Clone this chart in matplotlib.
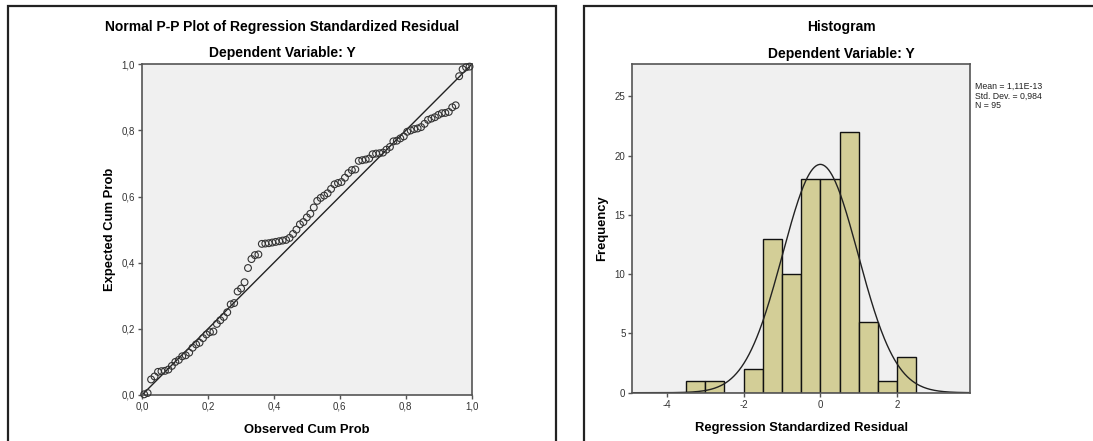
import numpy as np
import matplotlib
matplotlib.use("Agg")
import matplotlib.pyplot as plt
from matplotlib.patches import Rectangle
from matplotlib.ticker import FuncFormatter

plt.rcParams['font.family'] = ['Liberation Sans', 'DejaVu Sans']
plt.rcParams['axes.unicode_minus'] = False

# Expected cum prob of the sorted residuals
expected_cum_prob = [
    0.002, 0.006, 0.047, 0.056, 0.070, 0.072, 0.073, 0.077, 0.088, 0.100,
    0.106, 0.117, 0.120, 0.128, 0.143, 0.153, 0.158, 0.172, 0.183, 0.190,
    0.192, 0.215, 0.226, 0.236, 0.250, 0.274, 0.278, 0.313, 0.322, 0.341,
    0.384, 0.411, 0.423, 0.425, 0.457, 0.458, 0.459, 0.461, 0.463, 0.465,
    0.467, 0.469, 0.475, 0.487, 0.500, 0.516, 0.523, 0.537, 0.548, 0.567,
    0.587, 0.596, 0.603, 0.610, 0.623, 0.637, 0.641, 0.644, 0.657, 0.671,
    0.680, 0.682, 0.708, 0.710, 0.712, 0.715, 0.728, 0.730, 0.731, 0.733,
    0.742, 0.750, 0.767, 0.769, 0.776, 0.782, 0.796, 0.800, 0.804, 0.806,
    0.810, 0.820, 0.832, 0.836, 0.840, 0.847, 0.852, 0.853, 0.856, 0.870,
    0.876, 0.964, 0.985, 0.991, 0.993,
]

# histogram of regression standardized residual
bin_edges = [-3.5, -3.0, -2.5, -2.0, -1.5, -1.0, -0.5, 0.0, 0.5, 1.0, 1.5, 2.0, 2.5]
bin_counts = [1, 1, 0, 2, 13, 10, 18, 18, 22, 6, 1, 3]
mean_resid = 1.11e-13
sd_resid = 0.984
n_obs = 95

# observed cum prob from the ranks (Blom)
ranks = np.arange(1, n_obs + 1)
observed_cum_prob = (ranks - 0.375) / (n_obs + 0.25)

comma = FuncFormatter(lambda v, p: ('%.1f' % v).replace('.', ','))

fig = plt.figure(figsize=(10.93, 4.41), dpi=100)

# panel frames
for x0, w in [(8, 548), (584, 520)]:
    fig.patches.append(Rectangle((x0 / 1093, -0.1), w / 1093, 1.1 - 6 / 441,
                                 transform=fig.transFigure, fill=False,
                                 edgecolor='#222222', linewidth=1.6))

def style_axes(ax):
    ax.set_facecolor('#f0f0f0')
    for s in ax.spines.values():
        s.set_color('#555555')
        s.set_linewidth(1.2)
    ax.tick_params(direction='out', length=3, width=1, colors='#555555',
                   labelsize=7, labelcolor='#333333', pad=2)

# ---- P-P plot
ax1 = fig.add_axes([142 / 1093, 46 / 441, 329.7 / 1093, 330.7 / 441])
style_axes(ax1)
ax1.plot([0, 1], [0, 1], color='#222222', linewidth=1)
ax1.scatter(observed_cum_prob, expected_cum_prob, s=24, facecolors='none',
            edgecolors='#333333', linewidths=0.8, zorder=3, clip_on=False)
ax1.set_xlim(0, 1)
ax1.set_ylim(0, 1)
ax1.set_xticks([0, 0.2, 0.4, 0.6, 0.8, 1.0])
ax1.set_yticks([0, 0.2, 0.4, 0.6, 0.8, 1.0])
ax1.xaxis.set_major_formatter(comma)
ax1.yaxis.set_major_formatter(comma)
ax1.set_xlabel('Observed Cum Prob', fontsize=9.4, fontweight='bold', labelpad=9)
ax1.set_ylabel('Expected Cum Prob', fontsize=9.4, fontweight='bold', labelpad=4)
fig.text(282 / 1093, 1 - 26.7 / 441, 'Normal P-P Plot of Regression Standardized Residual',
         ha='center', va='center', fontsize=10, fontweight='bold')
fig.text(282 / 1093, 1 - 53 / 441, 'Dependent Variable: Y',
         ha='center', va='center', fontsize=10, fontweight='bold')

# ---- Histogram
ax2 = fig.add_axes([632.4 / 1093, 48.3 / 441, 337.5 / 1093, 328.4 / 441])
style_axes(ax2)
widths = np.diff(bin_edges)
ax2.bar(bin_edges[:-1], bin_counts, width=widths, align='edge',
        color='#d3ce97', edgecolor='#111111', linewidth=1)
xs = np.linspace(-4.9, 3.9, 400)
curve = n_obs * 0.5 * np.exp(-0.5 * ((xs - mean_resid) / sd_resid) ** 2) / (sd_resid * np.sqrt(2 * np.pi))
ax2.plot(xs, curve, color='#222222', linewidth=1)
ax2.set_xlim(-4.9, 3.9)
ax2.set_ylim(0, 27.7)
ax2.set_xticks([-4, -2, 0, 2])
ax2.set_yticks([0, 5, 10, 15, 20, 25])
ax2.set_xlabel('Regression Standardized Residual', fontsize=9.4, fontweight='bold', labelpad=9)
ax2.set_ylabel('Frequency', fontsize=9.4, fontweight='bold', labelpad=5)
fig.text(841 / 1093, 1 - 27 / 441, 'Histogram',
         ha='center', va='center', fontsize=10, fontweight='bold')
fig.text(841 / 1093, 1 - 54 / 441, 'Dependent Variable: Y',
         ha='center', va='center', fontsize=10, fontweight='bold')
fig.text(975 / 1093, 1 - 82 / 441, 'Mean = 1,11E-13\nStd. Dev. = 0,984\nN = 95',
         ha='left', va='top', fontsize=6.3, linespacing=1.05, color='#222222')

fig.savefig('out.png', dpi=100)
